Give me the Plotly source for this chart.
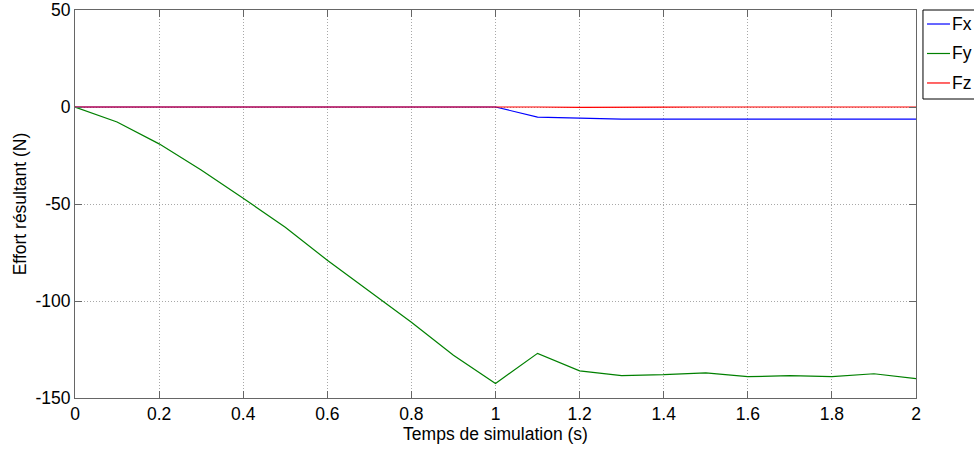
import plotly.graph_objects as go

# Simulation time (s)
t = [0.0, 0.1, 0.2, 0.3, 0.4, 0.5, 0.6, 0.7, 0.8, 0.9, 1.0,
     1.1, 1.2, 1.3, 1.4, 1.5, 1.6, 1.7, 1.8, 1.9, 2.0]

# Resultant force components (N)
fx = [0.0, 0.0, 0.0, 0.0, 0.0, 0.0, 0.0, 0.0, 0.0, 0.0, 0.0,
      -5.2, -5.8, -6.2, -6.3, -6.3, -6.5, -6.4, -6.3, -6.3, -6.3]
fy = [0.0, -7.7, -19.0, -32.5, -47.0, -62.0, -79.0, -95.0, -111.0, -128.0, -142.5,
      -127.0, -136.0, -138.5, -138.0, -137.0, -139.0, -138.5, -139.0, -137.5, -140.0]
fz = [0.0, 0.0, 0.1, 0.2, 0.1, 0.0, 0.1, 0.1, 0.1, 0.1, 0.1,
      0.0, -0.2, -0.3, -0.1, 0.0, 0.1, 0.1, 0.0, 0.0, 0.0]

# Axis ticks (plain hyphen for negative labels)
x_ticks = [0, 0.2, 0.4, 0.6, 0.8, 1.0, 1.2, 1.4, 1.6, 1.8, 2.0]
x_labels = ["0", "0.2", "0.4", "0.6", "0.8", "1", "1.2", "1.4", "1.6", "1.8", "2"]
y_ticks = [-150, -100, -50, 0, 50]
y_labels = ["-150", "-100", "-50", "0", "50"]

series = [("Fx", fx, "#0000ff"), ("Fy", fy, "#008000"), ("Fz", fz, "#ff0000")]

fig = go.Figure()
for name, vals, col in series:
    fig.add_trace(go.Scatter(x=t, y=vals, name=name, mode="lines",
                             line=dict(color=col, width=1.2)))

font = dict(family="Liberation Sans, Arial, sans-serif", size=17.5, color="black")
axis_common = dict(
    showline=True, linecolor="#666666", linewidth=1, mirror="ticks",
    ticks="inside", ticklen=7, tickcolor="#666666",
    showgrid=True, gridcolor="#a8a8a8", griddash="1px,2px", gridwidth=1,
    zeroline=False, tickfont=font,
)

# Compact legend box to the right of the axes (paper coordinates)
shapes = [dict(type="rect", xref="paper", yref="paper",
               x0=1.0083, x1=1.09, y0=0.7706, y1=1.0,
               line=dict(color="black", width=1), fillcolor="white", layer="above")]
annotations = []
entry_y = [0.9639, 0.8879, 0.8119]
for (name, _, col), yy in zip(series, entry_y):
    shapes.append(dict(type="line", xref="paper", yref="paper",
                       x0=1.0131, x1=1.0404, y0=yy, y1=yy,
                       line=dict(color=col, width=1.2), layer="above"))
    annotations.append(dict(xref="paper", yref="paper", x=1.0405, y=yy,
                            xanchor="left", yanchor="middle", showarrow=False,
                            text=name, font=dict(size=17.5)))

fig.update_layout(
    width=974, height=452,
    margin=dict(l=75, r=58, t=10, b=54, autoexpand=False),
    plot_bgcolor="white", paper_bgcolor="white",
    font=font,
    showlegend=False,
    shapes=shapes,
    annotations=annotations,
    xaxis=dict(range=[0, 2], tickvals=x_ticks, ticktext=x_labels,
               title=dict(text="Temps de simulation (s)", font=dict(size=17.5), standoff=0),
               **axis_common),
    yaxis=dict(range=[-150, 50], tickvals=y_ticks, ticktext=y_labels,
               title=dict(text="Effort résultant (N)", font=dict(size=17.5), standoff=4),
               **axis_common),
)

fig.write_html("out.html")
